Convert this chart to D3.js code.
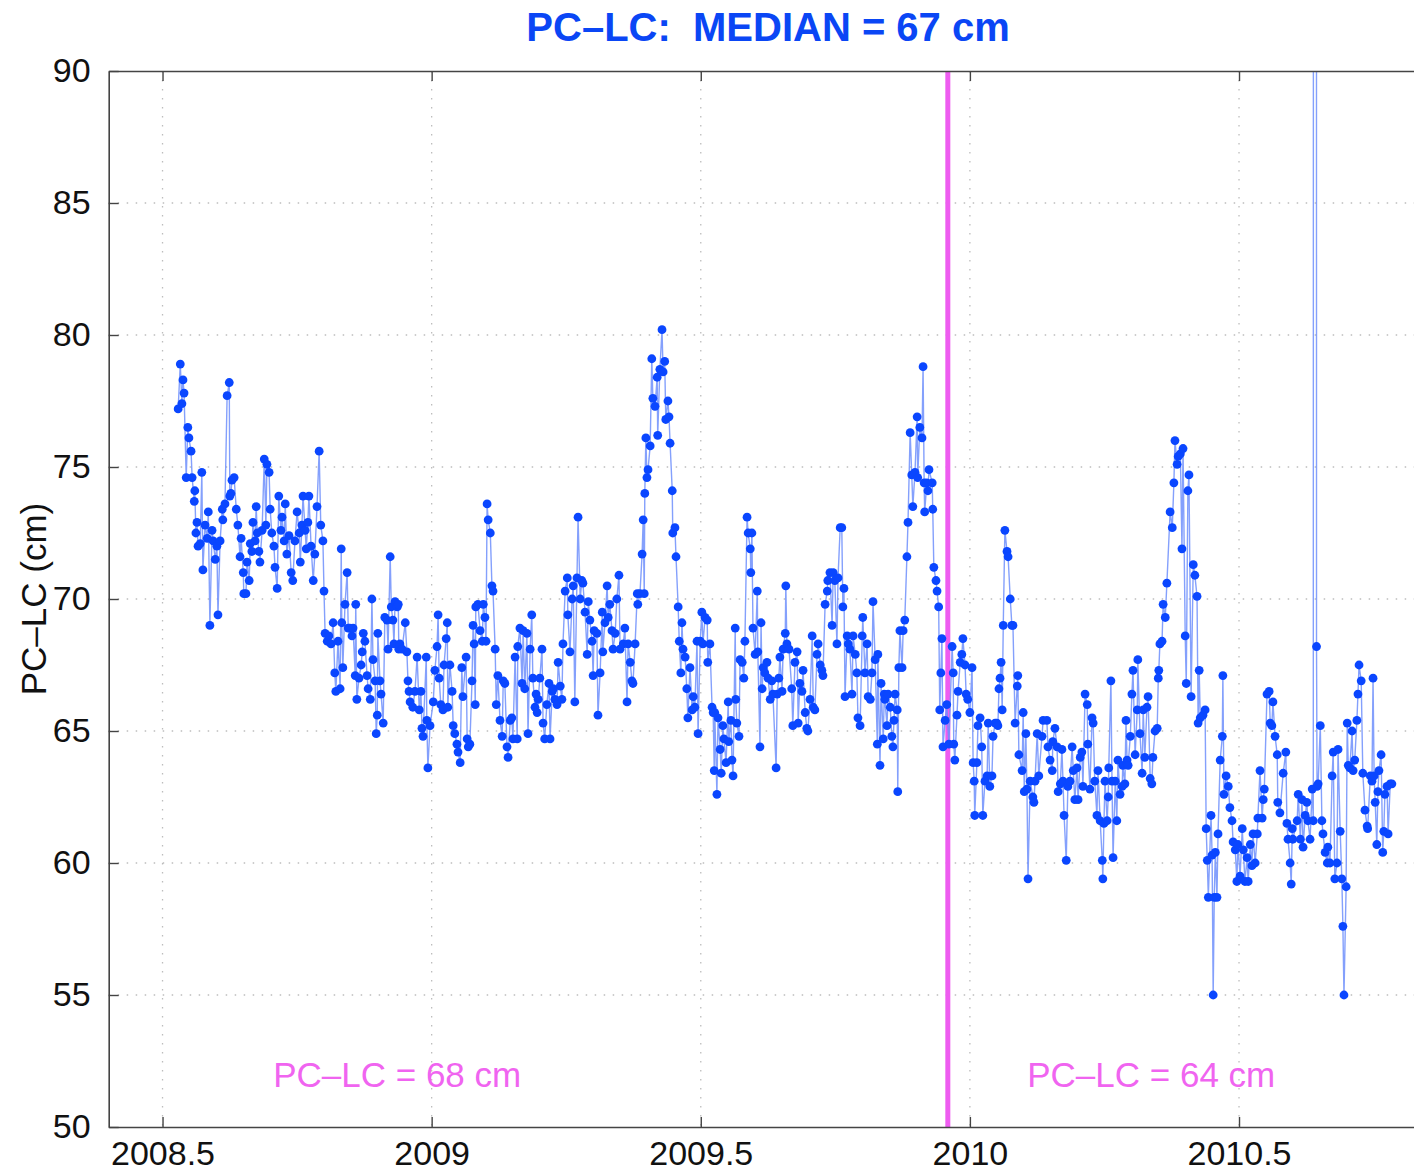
<!DOCTYPE html>
<html><head><meta charset="utf-8">
<script src="https://cdn.jsdelivr.net/npm/d3@7"></script>
<style>body{margin:0;background:#fff}svg{display:block}</style>
</head><body>
<svg id="c" width="1414" height="1175"></svg>
<script>
const years = [
2008.529,2008.533,2008.536,2008.538,2008.540,2008.544,2008.547,2008.549,2008.553,2008.555,2008.559,2008.560,2008.562,2008.564,2008.566,2008.570,2008.573,2008.575,2008.579,2008.583,
2008.585,2008.588,2008.592,2008.594,2008.598,2008.601,2008.603,2008.607,2008.611,2008.612,2008.616,2008.620,2008.624,2008.625,2008.627,2008.629,2008.633,2008.637,2008.640,2008.644,
2008.646,2008.650,2008.651,2008.655,2008.657,2008.661,2008.663,2008.666,2008.668,2008.672,2008.674,2008.676,2008.679,2008.681,2008.685,2008.689,2008.692,2008.694,2008.698,2008.700,
2008.703,2008.707,2008.709,2008.713,2008.716,2008.720,2008.722,2008.726,2008.728,2008.731,2008.735,2008.739,2008.742,2008.746,2008.750,2008.754,2008.756,2008.759,2008.761,2008.765,
2008.767,2008.770,2008.772,2008.776,2008.780,2008.783,2008.787,2008.791,2008.794,2008.798,2008.800,2008.802,2008.806,2008.809,2008.813,2008.817,2008.820,2008.822,2008.826,2008.830,
2008.832,2008.833,2008.835,2008.839,2008.843,2008.845,2008.848,2008.852,2008.854,2008.858,2008.859,2008.861,2008.865,2008.869,2008.871,2008.873,2008.876,2008.880,2008.882,2008.886,
2008.889,2008.891,2008.895,2008.897,2008.899,2008.900,2008.904,2008.906,2008.910,2008.913,2008.917,2008.919,2008.923,2008.925,2008.928,2008.930,2008.932,2008.936,2008.938,2008.939,
2008.941,2008.945,2008.951,2008.954,2008.956,2008.958,2008.960,2008.965,2008.969,2008.973,2008.977,2008.980,2008.982,2008.984,2008.990,2008.991,2008.993,2008.997,2009.003,2009.006,
2009.010,2009.012,2009.014,2009.017,2009.021,2009.023,2009.027,2009.029,2009.030,2009.034,2009.038,2009.040,2009.043,2009.047,2009.049,2009.053,2009.056,2009.058,2009.064,2009.066,
2009.068,2009.071,2009.075,2009.077,2009.079,2009.081,2009.082,2009.086,2009.090,2009.094,2009.096,2009.099,2009.101,2009.103,2009.105,2009.109,2009.112,2009.114,2009.118,2009.120,
2009.123,2009.127,2009.131,2009.133,2009.136,2009.140,2009.142,2009.146,2009.149,2009.151,2009.155,2009.159,2009.160,2009.164,2009.168,2009.170,2009.173,2009.177,2009.179,2009.183,
2009.186,2009.188,2009.192,2009.194,2009.196,2009.198,2009.201,2009.205,2009.207,2009.210,2009.214,2009.218,2009.220,2009.224,2009.226,2009.229,2009.233,2009.235,2009.239,2009.242,
2009.244,2009.248,2009.252,2009.253,2009.257,2009.261,2009.263,2009.266,2009.270,2009.272,2009.276,2009.279,2009.281,2009.285,2009.289,2009.291,2009.294,2009.298,2009.300,2009.302,
2009.307,2009.309,2009.313,2009.317,2009.318,2009.322,2009.326,2009.328,2009.331,2009.335,2009.337,2009.341,2009.344,2009.348,2009.350,2009.356,2009.359,2009.363,2009.365,2009.369,
2009.372,2009.374,2009.378,2009.382,2009.383,2009.387,2009.391,2009.393,2009.395,2009.396,2009.398,2009.400,2009.402,2009.406,2009.409,2009.411,2009.415,2009.419,2009.420,2009.424,
2009.428,2009.430,2009.433,2009.435,2009.439,2009.441,2009.443,2009.447,2009.448,2009.452,2009.454,2009.458,2009.460,2009.463,2009.465,2009.467,2009.471,2009.474,2009.476,2009.480,
2009.484,2009.486,2009.489,2009.493,2009.495,2009.499,2009.502,2009.504,2009.508,2009.512,2009.513,2009.517,2009.521,2009.523,2009.525,2009.526,2009.530,2009.532,2009.536,2009.538,
2009.541,2009.543,2009.547,2009.551,2009.552,2009.556,2009.558,2009.560,2009.564,2009.565,2009.567,2009.571,2009.573,2009.577,2009.580,2009.582,2009.586,2009.588,2009.592,2009.593,
2009.595,2009.597,2009.601,2009.605,2009.606,2009.610,2009.612,2009.614,2009.616,2009.619,2009.623,2009.625,2009.629,2009.632,2009.634,2009.640,2009.642,2009.645,2009.647,2009.651,
2009.653,2009.657,2009.658,2009.660,2009.664,2009.669,2009.671,2009.675,2009.679,2009.681,2009.684,2009.688,2009.690,2009.694,2009.697,2009.699,2009.703,2009.707,2009.709,2009.712,
2009.716,2009.718,2009.722,2009.725,2009.727,2009.731,2009.735,2009.736,2009.740,2009.744,2009.746,2009.749,2009.753,2009.755,2009.759,2009.762,2009.764,2009.766,2009.768,2009.772,
2009.774,2009.777,2009.781,2009.783,2009.787,2009.790,2009.792,2009.796,2009.800,2009.801,2009.805,2009.809,2009.811,2009.815,2009.818,2009.820,2009.824,2009.828,2009.829,2009.833,
2009.835,2009.839,2009.841,2009.842,2009.846,2009.848,2009.852,2009.855,2009.857,2009.859,2009.861,2009.865,2009.866,2009.868,2009.870,2009.874,2009.876,2009.879,2009.883,2009.885,
2009.889,2009.892,2009.894,2009.898,2009.902,2009.903,2009.907,2009.911,2009.913,2009.915,2009.916,2009.920,2009.922,2009.924,2009.930,2009.931,2009.933,2009.937,2009.939,2009.942,
2009.944,2009.946,2009.948,2009.950,2009.954,2009.957,2009.961,2009.967,2009.969,2009.970,2009.972,2009.976,2009.978,2009.982,2009.985,2009.987,2009.991,2009.993,2009.996,2010.000,
2010.004,2010.006,2010.008,2010.009,2010.013,2010.015,2010.019,2010.022,2010.024,2010.028,2010.032,2010.034,2010.037,2010.041,2010.043,2010.047,2010.050,2010.052,2010.054,2010.056,
2010.058,2010.060,2010.062,2010.065,2010.069,2010.071,2010.075,2010.078,2010.080,2010.084,2010.088,2010.089,2010.091,2010.097,2010.099,2010.101,2010.104,2010.106,2010.108,2010.112,
2010.117,2010.119,2010.121,2010.125,2010.128,2010.134,2010.136,2010.143,2010.145,2010.149,2010.153,2010.154,2010.158,2010.162,2010.164,2010.168,2010.171,2010.173,2010.175,2010.179,
2010.182,2010.186,2010.190,2010.192,2010.195,2010.199,2010.201,2010.205,2010.208,2010.210,2010.214,2010.218,2010.219,2010.223,2010.227,2010.229,2010.232,2010.236,2010.238,2010.242,
2010.246,2010.247,2010.249,2010.251,2010.255,2010.257,2010.258,2010.262,2010.264,2010.266,2010.270,2010.273,2010.275,2010.279,2010.283,2010.284,2010.288,2010.290,2010.292,2010.294,
2010.298,2010.301,2010.303,2010.307,2010.311,2010.312,2010.316,2010.320,2010.322,2010.325,2010.329,2010.331,2010.335,2010.338,2010.340,2010.344,2010.348,2010.350,2010.351,2010.353,
2010.357,2010.359,2010.363,2010.366,2010.372,2010.376,2010.379,2010.381,2010.385,2010.387,2010.391,2010.394,2010.396,2010.400,2010.402,2010.405,2010.407,2010.411,2010.415,2010.418,
2010.422,2010.424,2010.426,2010.428,2010.433,2010.437,2010.439,2010.441,2010.443,2010.448,2010.450,2010.452,2010.454,2010.456,2010.459,2010.461,2010.465,2010.469,2010.470,2010.472,
2010.476,2010.480,2010.483,2010.487,2010.489,2010.493,2010.496,2010.498,2010.502,2010.506,2010.508,2010.511,2010.515,2010.517,2010.521,2010.524,2010.526,2010.530,2010.534,2010.535,
2010.539,2010.543,2010.545,2010.547,2010.552,2010.556,2010.558,2010.561,2010.563,2010.567,2010.571,2010.572,2010.576,2010.582,2010.587,2010.589,2010.591,2010.595,2010.597,2010.599,
2010.600,2010.608,2010.610,2010.614,2010.617,2010.619,2010.623,2010.626,2010.628,2010.632,2010.636,2010.638,2010.640,2010.643,2010.644,2010.645,2010.647,2010.651,2010.654,2010.656,2010.660,
2010.664,2010.665,2010.669,2010.673,2010.675,2010.678,2010.682,2010.684,2010.688,2010.691,2010.693,2010.695,2010.699,2010.701,2010.703,2010.706,2010.710,2010.712,2010.715,2010.719,
2010.721,2010.723,2010.727,2010.730,2010.734,2010.738,2010.739,2010.744,2010.747,2010.749,2010.751,2010.753,2010.756,2010.758,2010.760,2010.764,2010.767,2010.769,2010.771,2010.775,
2010.777,2010.781,2010.784
];
const pcLc = [
77.2,78.9,77.4,78.3,77.8,74.6,76.5,76.1,75.6,74.6,73.7,74.1,72.5,72.9,72.0,72.1,74.8,71.1,72.8,72.3,
73.3,69.0,72.6,72.2,71.5,72.0,69.4,72.2,73.4,73.0,73.6,77.7,78.2,73.9,74.0,74.5,74.6,73.4,72.8,71.6,
72.3,71.0,70.2,70.2,71.4,70.7,72.1,71.8,72.9,72.2,73.5,72.5,71.8,71.4,72.6,75.3,72.8,75.1,74.8,73.4,
72.5,72.0,71.2,70.4,73.9,72.6,73.1,72.2,73.6,71.7,72.4,71.0,70.7,72.2,73.3,72.5,71.4,72.8,73.9,72.6,
71.9,72.9,73.9,72.0,70.7,71.7,73.5,75.6,72.8,72.2,70.3,68.7,68.4,68.6,68.3,69.1,67.2,66.5,68.4,66.6,
71.9,69.1,67.4,69.8,71.0,68.9,68.9,68.6,68.9,67.1,69.8,66.2,67.0,67.5,68.0,68.7,68.4,67.1,66.6,66.2,
70.0,67.7,66.9,64.9,65.6,68.7,66.9,66.4,65.3,69.3,69.2,68.1,71.6,69.7,69.2,68.3,69.9,69.7,69.8,68.1,
68.3,68.1,69.1,68.0,66.9,66.5,66.1,65.9,66.5,67.8,65.8,66.5,65.1,64.8,67.8,65.4,63.6,65.2,66.1,67.3,
68.2,69.4,67.0,66.0,65.8,67.5,68.5,69.1,65.9,67.5,66.5,65.2,64.9,64.5,64.2,63.8,67.4,66.3,67.8,64.7,
64.4,64.5,66.9,69.0,68.3,66.0,69.7,69.8,68.8,68.4,69.8,69.3,68.4,73.6,73.0,72.5,70.5,70.3,68.1,66.0,
67.1,65.4,64.8,66.9,66.8,64.4,64.0,65.4,65.5,64.7,67.8,64.7,68.2,68.9,66.8,68.8,66.6,68.7,64.9,68.1,
69.4,67.0,65.9,66.4,65.7,66.2,67.0,68.1,65.3,64.7,66.0,66.8,64.7,66.5,66.6,66.2,66.0,67.6,66.7,66.2,
68.3,70.3,70.8,69.4,68.0,70.0,70.5,66.1,70.8,73.1,70.0,70.7,70.6,69.5,67.9,69.9,69.2,68.4,67.1,68.8,
68.7,65.6,67.2,69.5,68.0,69.1,70.5,69.3,69.8,68.8,68.1,68.7,70.0,70.9,68.1,68.3,68.9,66.1,68.3,67.6,
66.9,66.8,68.3,70.2,69.8,70.2,71.7,73.0,70.2,74.0,76.1,74.6,74.9,75.8,79.1,77.6,77.3,78.4,76.2,78.7,
80.2,78.6,79.0,76.8,77.5,76.9,75.9,74.1,72.5,72.7,71.6,69.7,68.4,67.2,69.1,68.1,67.8,66.6,65.5,67.4,
65.8,66.3,65.9,68.4,64.9,68.4,69.5,68.3,69.3,69.2,67.6,68.3,65.9,65.7,63.5,65.7,62.6,65.5,64.3,63.4,
65.2,64.7,63.8,66.1,64.6,65.4,63.9,63.3,68.9,66.2,65.3,64.8,67.7,67.6,67.0,68.4,73.1,72.5,71.9,71.0,
72.5,68.9,67.9,70.3,68.0,64.4,69.1,66.6,67.4,67.2,67.6,67.0,66.2,66.9,66.4,63.6,66.4,67.0,67.8,66.5,
68.1,68.7,70.5,68.3,68.1,66.6,65.2,67.6,68.0,65.3,66.8,66.5,67.3,65.7,65.1,65.0,66.2,68.6,65.9,65.8,
67.9,68.3,67.5,67.3,67.1,69.8,70.3,70.7,71.0,69.0,71.0,70.7,68.3,70.8,72.7,72.7,69.7,70.4,66.3,68.6,
68.3,68.1,66.4,68.6,67.9,67.2,65.5,65.2,68.6,69.3,67.2,68.3,66.3,66.2,67.2,69.9,67.7,64.5,67.9,63.7,
66.8,64.7,66.4,66.2,65.2,66.4,65.9,64.8,64.4,65.4,66.4,65.8,62.7,67.4,68.8,67.4,68.8,69.2,71.6,72.9,
76.3,74.7,73.5,74.8,76.9,74.6,76.5,76.1,78.8,74.4,73.3,74.4,74.1,74.9,74.4,73.4,71.2,70.7,70.3,69.7,
65.8,67.2,68.5,64.4,65.4,66.0,64.5,68.2,67.2,64.5,63.9,65.6,66.5,67.6,67.9,68.5,67.5,66.4,66.2,65.7,
67.4,63.8,63.1,61.8,63.8,65.2,65.5,64.4,61.8,63.1,63.3,65.3,62.9,63.3,64.8,65.3,65.3,65.2,66.6,67.0,
67.6,65.8,69.0,72.6,71.8,71.6,70.0,69.0,69.0,65.3,66.7,67.1,64.1,63.5,65.7,62.7,64.9,62.8,59.4,63.1,
62.5,62.3,63.1,64.9,63.3,64.8,65.4,65.4,64.4,63.9,63.5,64.6,65.1,64.4,62.7,63.0,64.3,63.1,61.8,60.1,
62.9,63.1,64.4,63.5,62.4,63.6,62.4,64.0,64.2,62.9,66.4,66.0,64.5,62.8,65.5,65.3,63.1,61.8,63.5,61.6,
60.1,59.4,61.5,63.1,61.6,62.5,63.6,66.9,63.1,60.2,63.1,61.6,63.9,62.6,62.9,63.7,63.0,65.4,63.9,63.7,
64.8,66.4,67.3,64.1,65.8,67.7,64.9,63.4,65.8,64.0,65.9,66.3,63.2,63.0,64.0,65.0,65.1,67.0,67.3,68.3,
68.4,69.8,69.3,70.6,73.3,72.7,74.4,76.0,75.1,75.4,75.5,71.9,75.7,68.6,66.8,74.1,74.7,66.3,71.3,70.9,
70.1,65.3,67.3,65.5,65.6,65.8,61.3,60.1,58.7,61.8,60.3,55.0,58.7,60.4,58.7,61.1,63.9,64.8,67.1,62.6,
63.3,62.9,62.1,61.6,60.8,60.5,59.3,60.7,59.5,61.3,60.5,59.3,60.2,59.3,60.7,59.9,61.1,60.0,61.1,61.7,
63.5,61.7,62.4,62.8,66.4,66.5,65.3,65.2,66.1,64.8,64.1,62.3,61.9,63.4,64.2,61.5,60.9,60.0,59.2,61.3,
60.9,61.6,62.6,60.9,62.4,60.6,61.8,62.3,61.6,60.9,62.8,61.6,400,400,68.2,62.9,63.0,65.2,61.6,61.1,60.4,
60.0,60.6,60.0,63.3,64.2,59.4,60.0,64.3,61.2,59.4,57.6,55.0,59.1,65.3,63.7,63.6,65.0,63.5,63.9,65.4,
66.4,67.5,66.9,63.4,62.0,61.4,61.3,63.3,63.1,67.0,63.3,62.3,60.7,62.7,63.5,64.1,60.4,61.2,62.6,62.9,
61.1,63.0,63.0
];
const xTicks = [2008.5, 2009, 2009.5, 2010, 2010.5];
const xTickLabels = ["2008.5", "2009", "2009.5", "2010", "2010.5"];
const yTicks = [50, 55, 60, 65, 70, 75, 80, 85, 90];
const breakYear = 2009.959;
const segYears = [2008.936, 2010.337];
const segTexts = ["PC\u2013LC = 68 cm", "PC\u2013LC = 64 cm"];
const segValue = 51.5;
const titleText = "PC\u2013LC:  MEDIAN = 67 cm";
const yLabelText = "PC\u2013LC (cm)";

const svg = d3.select("#c");
const L = 108.7, R = 1427.4, T = 71, B = 1127;
const x = d3.scaleLinear().domain([2008.4, 2010.85]).range([L, R]);
const y = d3.scaleLinear().domain([50, 90]).range([B, T]);
const font = "'Liberation Sans', Arial, Helvetica, sans-serif";

svg.append("defs").append("clipPath").attr("id", "clip")
  .append("rect").attr("x", L).attr("y", T).attr("width", R - L).attr("height", B - T);

// grid
const grid = svg.append("g").attr("stroke", "#bdbdbd").attr("stroke-width", 1.3).attr("stroke-dasharray", "1.5,7.5");
grid.selectAll(".gx").data(xTicks).join("line")
  .attr("x1", d => x(d)).attr("x2", d => x(d)).attr("y1", T).attr("y2", B);
grid.selectAll(".gy").data(yTicks.filter(d => d > 50 && d < 90)).join("line")
  .attr("y1", d => y(d)).attr("y2", d => y(d)).attr("x1", L).attr("x2", R);

// break line
svg.append("line").attr("x1", x(breakYear)).attr("x2", x(breakYear)).attr("y1", T).attr("y2", B)
  .attr("stroke", "#ee5cf0").attr("stroke-width", 5);

// data
const data = years.map((t, i) => ({t, v: pcLc[i]}));
const plot = svg.append("g").attr("clip-path", "url(#clip)");
plot.append("path").datum(data)
  .attr("fill", "none").attr("stroke", "#6f8ffb").attr("stroke-opacity", 0.85).attr("stroke-width", 1.4)
  .attr("d", d3.line().x(d => x(d.t)).y(d => y(d.v)));
plot.selectAll("circle").data(data.filter(d => d.v <= 90)).join("circle")
  .attr("cx", d => x(d.t)).attr("cy", d => y(d.v)).attr("r", 4.4)
  .attr("fill", "#0a46ff");

// axes
const xAxisB = d3.axisBottom(x).tickValues(xTicks).tickFormat((d, i) => xTickLabels[i]).tickSizeInner(-10).tickSizeOuter(0).tickPadding(14);
const gxb = svg.append("g").attr("transform", `translate(0,${B})`).call(xAxisB);
const xAxisT = d3.axisTop(x).tickValues(xTicks).tickFormat("").tickSizeInner(-10).tickSizeOuter(0);
const gxt = svg.append("g").attr("transform", `translate(0,${T})`).call(xAxisT);
const yAxis = d3.axisLeft(y).tickValues(yTicks).tickFormat(d3.format("d")).tickSizeInner(-10).tickSizeOuter(0).tickPadding(18);
const gy = svg.append("g").attr("transform", `translate(${L},0)`).call(yAxis);
[gxb, gxt, gy].forEach(g => {
  g.select(".domain").attr("stroke", "#444").attr("stroke-width", 1.6);
  g.selectAll(".tick line").attr("stroke", "#444").attr("stroke-width", 1.4);
  g.selectAll(".tick text").attr("fill", "#111").style("font-family", font).style("font-size", "34px");
});
gxb.selectAll(".tick text").attr("dy", "0.71em");

// title
svg.append("text").attr("x", (L + R) / 2).attr("y", 41).attr("text-anchor", "middle")
  .style("white-space", "pre").style("font-family", font).style("font-weight", "bold").style("font-size", "40px")
  .attr("fill", "#0a46f5").text(titleText);

// y label
svg.append("text").attr("transform", `translate(46,${(T + B) / 2}) rotate(-90)`).attr("text-anchor", "middle")
  .style("font-family", font).style("font-size", "35px").attr("fill", "#111").text(yLabelText);

// segment annotations
svg.selectAll(".seg").data(segYears).join("text")
  .attr("x", d => x(d)).attr("y", y(segValue)).attr("text-anchor", "middle")
  .style("font-family", font).style("font-size", "35px").attr("fill", "#f064f0")
  .text((d, i) => segTexts[i]);
</script>
</body></html>
